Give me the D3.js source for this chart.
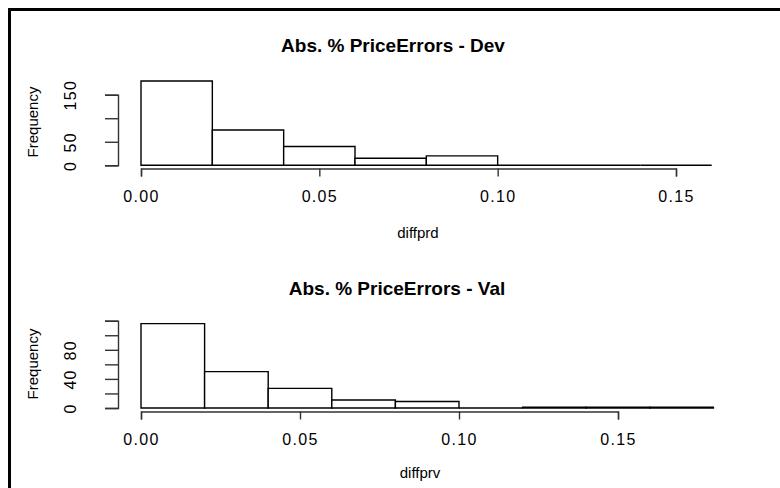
<!DOCTYPE html>
<html>
<head>
<meta charset="utf-8">
<script src="https://cdnjs.cloudflare.com/ajax/libs/d3/7.8.5/d3.min.js"></script>
<style>
  body { margin: 0; background: #fff; }
  text { font-family: "Liberation Sans", Arial, sans-serif; fill: #000; }
</style>
</head>
<body>
<div id="chart"></div>
<script>
// histogram bins (width 0.02) and counts
var binWidth = 0.02;
var devCounts = [179, 75, 40, 15, 20, 0, 0, 0];
var valCounts = [116, 50, 27, 11, 9, 0, 1, 1, 1];
var xTicks = [0, 0.05, 0.10, 0.15];
var devYTicks = [0, 50, 100, 150];
var devYLabels = ["0", "50", "", "150"];
var valYTicks = [0, 20, 40, 60, 80, 100, 120];
var valYLabels = ["0", "", "40", "", "80", "", ""];

var svg = d3.select("#chart").append("svg").attr("width", 780).attr("height", 488);

// frame of the figure
svg.append("path")
  .attr("d", "M9.5,488V9.5H780")
  .attr("fill", "none").attr("stroke", "#000").attr("stroke-width", 3);

function panel(opt) {
  var x = d3.scaleLinear().domain([0, 0.15]).range(opt.xr);
  var y = d3.scaleLinear().domain(opt.yd).range(opt.yr);
  var g = svg.append("g");

  var bins = opt.counts.map(function(c, i) { return {x0: i * binWidth, x1: (i + 1) * binWidth, n: c}; });
  // closed paths so that empty bins still show as a flat line
  g.selectAll("path.bar").data(bins).enter().append("path")
    .attr("class", "bar")
    .attr("d", function(d) {
      return "M" + x(d.x0) + "," + y(0) + "V" + y(d.n) + "H" + x(d.x1) + "V" + y(0) + "Z";
    })
    .attr("fill", "#fff").attr("stroke", "#000").attr("stroke-width", 1.4);

  var xa = g.append("g").attr("transform", "translate(0," + opt.xAxisY + ")")
    .call(d3.axisBottom(x).tickValues(xTicks).tickFormat(d3.format(".2f")).tickSize(8).tickSizeOuter(8).tickPadding(14));
  xa.select(".domain").attr("stroke", "#333").attr("stroke-width", 1.4);
  xa.selectAll("line").attr("stroke", "#333").attr("stroke-width", 1.4);
  xa.selectAll("text").attr("font-size", 16).attr("letter-spacing", 1.3).attr("font-family", null);

  var ya = g.append("g").attr("transform", "translate(" + opt.yAxisX + ",0)")
    .call(d3.axisLeft(y).tickValues(opt.yTicks).tickFormat(function(d, i) { return opt.yLabels[i]; }).tickSize(13).tickSizeOuter(13));
  ya.select(".domain").attr("stroke", "#333").attr("stroke-width", 1.4);
  ya.selectAll("line").attr("stroke", "#333").attr("stroke-width", 1.4);
  ya.selectAll("text")
    .attr("transform", "rotate(-90)")
    .attr("x", 0).attr("y", -48).attr("dy", null)
    .attr("text-anchor", "middle").attr("dominant-baseline", "central")
    .attr("font-size", 16).attr("letter-spacing", 1.3).attr("font-family", null);

  g.append("text").attr("x", opt.titleX).attr("y", opt.titleY)
    .attr("text-anchor", "middle").attr("font-size", 19).attr("font-weight", "bold")
    .text(opt.title);

  g.append("text").attr("x", opt.xlabX).attr("y", opt.xlabY)
    .attr("text-anchor", "middle").attr("font-size", 15)
    .text(opt.xlab);

  g.append("text")
    .attr("transform", "translate(32," + opt.ylabY + ") rotate(-90)")
    .attr("text-anchor", "middle").attr("dominant-baseline", "central")
    .attr("font-size", 15)
    .text("Frequency");
}

panel({
  counts: devCounts, xr: [141, 676], yd: [0, 150], yr: [165.3, 94.7],
  yTicks: devYTicks, yLabels: devYLabels,
  xAxisY: 168.5, yAxisX: 118,
  title: "Abs. % PriceErrors - Dev", titleX: 393, titleY: 52,
  xlab: "diffprd", xlabX: 418, xlabY: 238, ylabY: 122
});

panel({
  counts: valCounts, xr: [141, 618], yd: [0, 120], yr: [408, 320.7],
  yTicks: valYTicks, yLabels: valYLabels,
  xAxisY: 411.5, yAxisX: 118,
  title: "Abs. % PriceErrors - Val", titleX: 397, titleY: 295,
  xlab: "diffprv", xlabX: 420, xlabY: 478, ylabY: 364
});
</script>
</body>
</html>
